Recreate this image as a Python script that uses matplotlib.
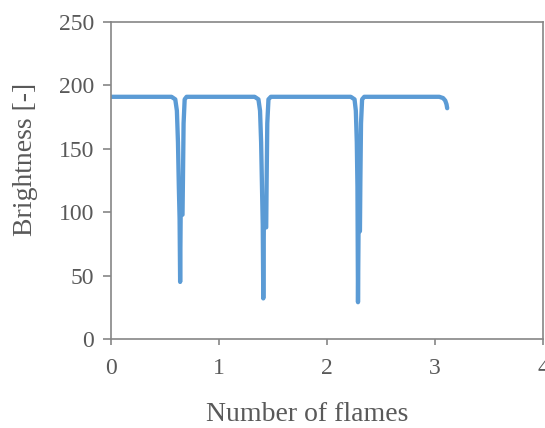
#!/usr/bin/env python3

import matplotlib
matplotlib.use("Agg")
import matplotlib.pyplot as plt

# brightness trace (x: number of flames, y: brightness)
frames = [0.0, 0.56, 0.595, 0.610, 0.620, 0.628, 0.635, 0.640, 0.645, 0.662, 0.666, 0.672, 0.682, 0.70,
          1.33, 1.365, 1.38, 1.39, 1.398, 1.405, 1.41, 1.415, 1.437, 1.441, 1.447, 1.458, 1.48,
          2.22, 2.255, 2.267, 2.276, 2.282, 2.287, 2.292, 2.305, 2.309, 2.315, 2.325, 2.345,
          3.04, 3.075, 3.095, 3.107, 3.113]
brightness = [191, 191, 189, 180, 155, 120, 95, 45, 98, 98, 125, 170, 189, 191,
              191, 189, 180, 155, 120, 90, 32, 88, 88, 125, 170, 189, 191,
              191, 189, 180, 155, 120, 29, 85, 85, 125, 170, 189, 191,
              191, 190, 188, 185, 182]

x_ticks = [0, 1, 2, 3, 4]
y_ticks = [0, 50, 100, 150, 200, 250]

plt.rcParams['font.family'] = ['Liberation Serif', 'DejaVu Serif']
gray = '#595959'
spine = '#868686'

fig = plt.figure(figsize=(5.45, 4.28), dpi=100)
ax = fig.add_axes([0.2037, 0.208, 0.7926, 0.7406])
ax.plot(frames, brightness, color='#5B9BD5', linewidth=3.1, solid_joinstyle='round', solid_capstyle='round')

ax.set_xlim(0, 4)
ax.set_ylim(0, 250)
ax.set_xticks(x_ticks)
ax.set_yticks(y_ticks)
for s in ax.spines.values():
    s.set_color(spine)
    s.set_linewidth(1.2)
ax.tick_params(axis='y', direction='out', length=6, width=1.2, color=spine, labelcolor=gray, labelsize=17, pad=6)
ax.tick_params(axis='x', direction='out', length=4, width=1.2, color=spine, labelcolor=gray, labelsize=17, pad=10)

ax.set_xlabel('Number of flames', fontsize=20, color=gray)
ax.set_ylabel('Brightness [-]', fontsize=20, color=gray)
ax.xaxis.set_label_coords(0.455, -0.2)
ax.yaxis.set_label_coords(-0.17, 0.565)

fig.savefig('out.png', dpi=100)
